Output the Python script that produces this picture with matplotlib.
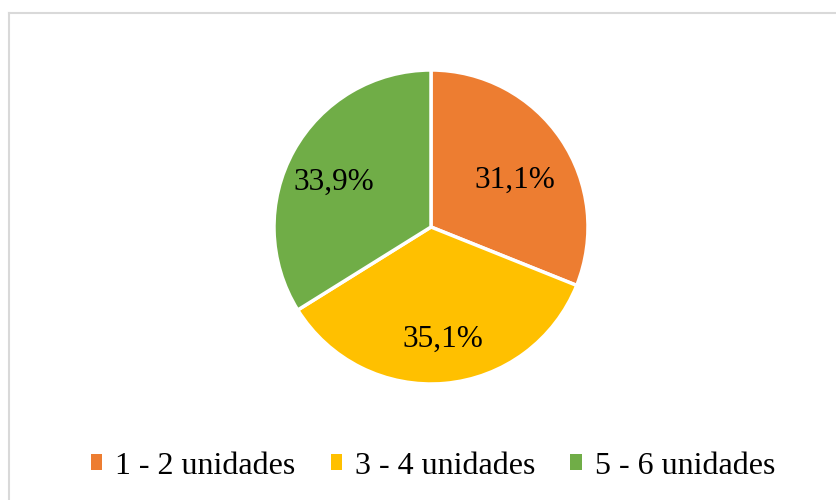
import matplotlib.pyplot as plt
from matplotlib.patches import Patch
from matplotlib.lines import Line2D
import numpy as np

plt.rcParams['font.family'] = ['Liberation Serif', 'DejaVu Serif']

labels = ['1 - 2 unidades', '3 - 4 unidades', '5 - 6 unidades']
values = [31.1, 35.1, 33.9]
colors = ['#ED7D31', '#FFC000', '#70AD47']

W, H = 837, 500
fig = plt.figure(figsize=(W / 100, H / 100), dpi=100)

# pie area: centre (431, 227) px, radius 157 px
cx, cy, r = 431, 227, 157
ax = fig.add_axes([(cx - r) / W, (H - cy - r) / H, 2 * r / W, 2 * r / H])

wedges, texts = ax.pie(
    values, colors=colors, startangle=90, counterclock=False,
    wedgeprops=dict(edgecolor='white', linewidth=2.5))

# place percentage labels like the original (best-fit positions)
label_pos = [(0.61, 29), (0.72, -84), (0.68, 155)]
for v, (dist, ang) in zip(values, label_pos):
    a = np.deg2rad(ang)
    ax.text(dist * np.cos(a), dist * np.sin(a), f'{v:.1f}'.replace('.', ',') + '%',
            ha='center', va='center', fontsize=22.5)

ax.set_xlim(-1, 1)
ax.set_ylim(-1, 1)
ax.set_aspect('equal')

handles = [Patch(facecolor=c, edgecolor='none') for c in colors]
fig.legend(handles, labels, loc='center', bbox_to_anchor=(433 / W, 1 - 466 / H),
           ncol=3, frameon=False, fontsize=23, handlelength=0.36, handleheight=0.36,
           handletextpad=0.4, columnspacing=1.1)

# light chart-area border (top and left visible)
fig.add_artist(Line2D([9 / W, 1], [1 - 13 / H, 1 - 13 / H], color='#D9D9D9', lw=1.5))
fig.add_artist(Line2D([9 / W, 9 / W], [1 - 13 / H, 0], color='#D9D9D9', lw=1.5))

fig.savefig('out.png', dpi=100)
